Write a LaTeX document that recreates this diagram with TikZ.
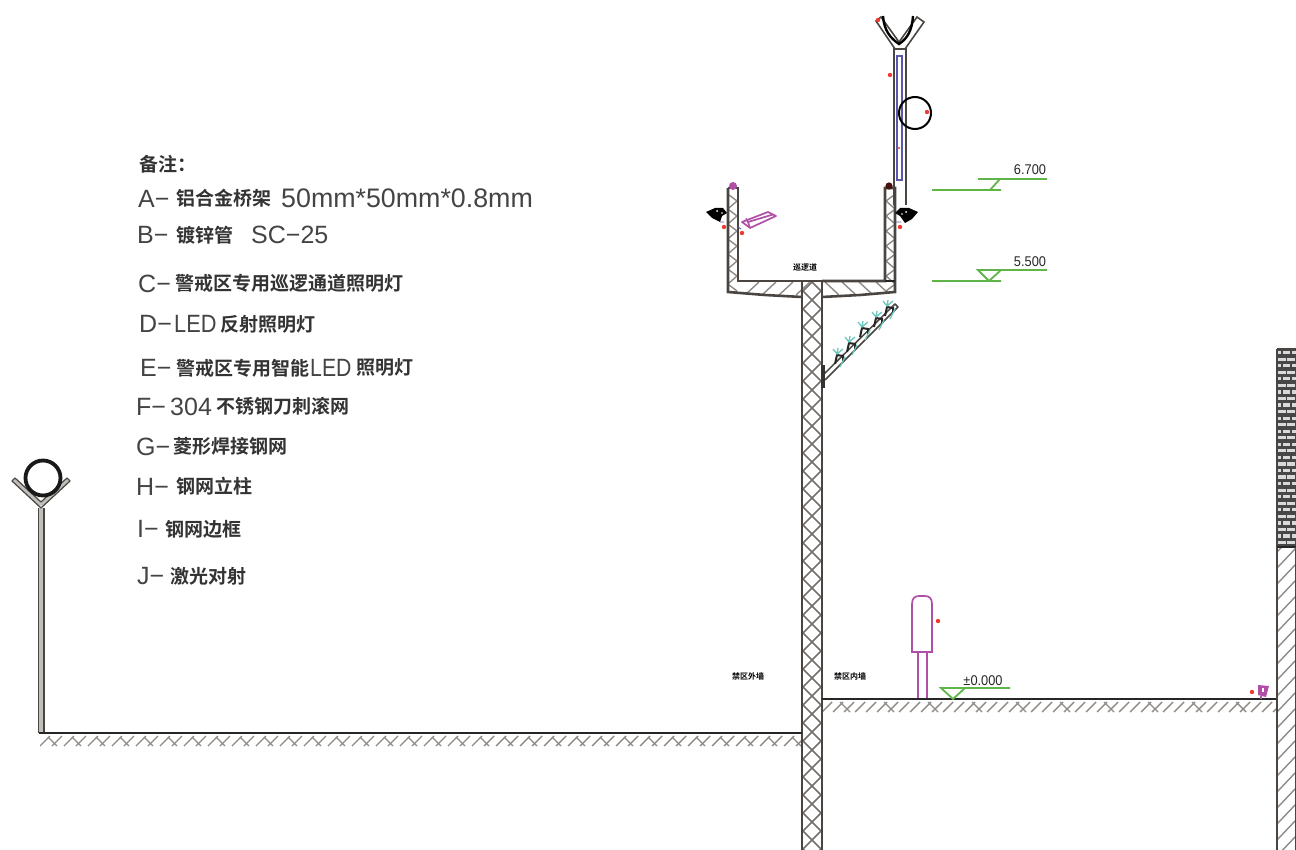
\documentclass[tikz,border=0pt]{standalone}
\usepackage{fontspec}
\setmainfont{Liberation Sans}
\newfontfamily\cjk{Noto Sans CJK SC}[BoldFont={Noto Sans CJK SC Bold}]
\definecolor{wallc}{HTML}{4A4540}
\definecolor{hatchc}{HTML}{8F8A85}
\definecolor{grn}{HTML}{5FB548}
\definecolor{pur}{HTML}{B04FA8}
\definecolor{blu}{HTML}{5A58A8}
\definecolor{txt}{HTML}{444444}
\definecolor{rd}{HTML}{EE3A30}
\definecolor{teeth}{HTML}{6CC8BE}
\tikzset{
  x=1pt,y=-1pt,
  wall/.style={draw=wallc,line width=2.6pt},
  hatch/.style={draw=hatchc,line width=1.4pt},
  greenline/.style={draw=grn,line width=1.8pt},
  ground/.style={draw=black!85,line width=2.8pt},
  purpleline/.style={draw=pur,line width=1.7pt},
  reddot/.style={fill=rd,draw=none},
  note/.style={inner sep=0pt,anchor=base west,text=txt,font=\fontsize{25}{25}\selectfont},
  notewide/.style={inner sep=0pt,anchor=base west,text=txt,font=\fontsize{26.8}{27}\selectfont},
  notecn/.style={inner sep=0pt,anchor=base west,yshift=-1pt,text=black!80,font=\fontsize{19}{19}\selectfont\cjk\bfseries},
  level/.style={inner sep=0pt,anchor=base,text=black!85,font=\fontsize{12.8}{13}\selectfont},
  tiny/.style={inner sep=0pt,text=black,font=\fontsize{8}{8}\selectfont\cjk\bfseries}
}
\begin{document}
\begin{tikzpicture}
\useasboundingbox (0,0) rectangle (1296,850);
% ---- notes
\node[notecn] (n0) at (139,171) {备注：};
\node[note] (a1) at (138,208) {A−};
\node[notecn] (a2) at (176,205) {铝合金桥架};
\node[notewide] (a3) at (281,208) {50mm*50mm*0.8mm};
\node[note] (b1) at (137,244) {B−};
\node[notecn] (b2) at (176,242) {镀锌管};
\node[note] (b3) at (251,244) {SC−25};
\node[note] (c1) at (138,293) {C−};
\node[notecn] (c2) at (175,290) {警戒区专用巡逻通道照明灯};
\node[note] (d1) at (139,333) {D−};
\node[note] (d3) at (174,333) {\scalebox{0.87}[1]{LED}};
\node[notecn] (d2) at (220,330) {反射照明灯};
\node[note] (e1) at (140,376) {E−};
\node[notecn] (e2) at (176,374) {警戒区专用智能};
\node[note] (e3) at (310,376) {\scalebox{0.85}[1]{LED}};
\node[notecn] (e4) at (356,373) {照明灯};
\node[note] (f1) at (136,415) {F−};
\node[note] (f3) at (170,415) {304};
\node[notecn] (f2) at (216,412) {不锈钢刀刺滚网};
\node[note] (g1) at (136,455) {G−};
\node[notecn] (g2) at (173,452) {菱形焊接钢网};
\node[note] (h1) at (136,495) {H−};
\node[notecn] (h2) at (176,492) {钢网立柱};
\node[note] (i1) at (137,537) {I−};
\node[notecn] (i2) at (165,535) {钢网边框};
\node[note] (j1) at (137,584) {J−};
\node[notecn] (j2) at (170,582) {激光对射};
% ---- soil hatching
\begin{scope}
\clip (40,735) rectangle (802,747);
\foreach \x in {40,52,...,800}{\draw[hatch] (\x,746) -- (\x+10,736);}
\foreach \x in {48,72,...,800}{\draw[hatch] (\x,737) -- (\x+9,746);}
\end{scope}
\begin{scope}
\clip (822,701) rectangle (1277,712);
\foreach \x in {822,833,...,1277}{\draw[hatch] (\x,712) -- (\x+10,702);}
\foreach \x in {840,884,...,1277}{\draw[hatch] (\x,702) -- (\x+10,712);}
\end{scope}
% ---- main column
\begin{scope}
\clip (802,282) rectangle (822,850);
\foreach \y in {270,288,...,860}{
  \draw[draw=hatchc!80!black,line width=1.6pt] (800,\y) -- (824,\y+24);
  \draw[draw=hatchc!80!black,line width=1.6pt] (800,\y+24) -- (824,\y);
}
\end{scope}
% ---- trough
\begin{scope}
\clip (728,188) -- (738,188) -- (738,281) -- (885,281) -- (885,188) -- (895,188) -- (895,292) -- (860,295) -- (822,297) -- (802,297) -- (765,295) -- (728,292) -- cycle;
\foreach \x in {745,762,...,800}{\draw[hatch] (\x,295) -- (\x+14,282);}
\foreach \x in {825,842,...,885}{\draw[hatch] (\x,282) -- (\x+14,295);}
\foreach \y in {195,210,...,285}{\draw[hatch] (729,\y) -- (737,\y+6);\draw[hatch] (729,\y+13) -- (737,\y+6);}
\foreach \y in {195,210,...,285}{\draw[hatch] (886,\y+6) -- (894,\y);\draw[hatch] (886,\y+6) -- (894,\y+13);}
\end{scope}
\draw[wall] (728,188) -- (738,188) -- (738,281) -- (802,281);
\draw[wall] (822,281) -- (885,281) -- (885,188) -- (895,188) -- (895,292) -- (860,295) -- (822,297);
\draw[wall] (802,297) -- (765,295) -- (728,292) -- (728,188);
\draw[draw=black!85,line width=1.8pt] (885,281) -- (895,281);
\draw[wall] (802,281) -- (822,281);
\draw[wall] (802,282) -- (802,850);
\draw[wall] (822,282) -- (822,850);
% ---- fence top
\draw[wall,line width=1.8pt] (894,48) -- (894,205);
\draw[wall,line width=1.8pt] (906,48) -- (906,205);
\draw[wall,line width=1.4pt] (894,49) -- (906,49);
\draw[blu,line width=1.6pt] (897,56) rectangle (902,180);
\draw[wall,line width=1.6pt] (895,49) -- (876,21) -- (881,17) -- (899,42) -- (917,17) -- (924,22) -- (905,49);
\draw[black,line width=2.4pt] (883,16) .. controls (884,30) and (890,38) .. (899,44) .. controls (908,38) and (912,30) .. (913,16);
\draw[black,line width=2pt] (915,113) circle[radius=16];
% ---- lamps (black)
\fill[black] (706,212) -- (715,208) -- (723,208) -- (727,213) -- (722,216) -- (720,222) -- (712,218) -- cycle;
\fill[black] (918,212) -- (909,208) -- (900,208) -- (895,213) -- (900,216) -- (905,223) -- (912,219) -- cycle;
\fill[white] (717,211) circle[radius=1] (722,213) circle[radius=.8] (906,212) circle[radius=1] (902,214) circle[radius=.8];
\draw[blu,line width=.9pt] (720,222) -- (724,222) (896,222) -- (901,222) (738,227) -- (741,229);
% ---- camera
\draw[purpleline,line join=round] (742,222) -- (768,212) -- (776,216) -- (750,228) -- cycle;
\draw[purpleline,line join=round] (746,218.5) -- (748,222) -- (750,228) (748,222) -- (773,214.5);
% ---- dots
\fill[pur] (733,186) circle[radius=4];
\fill[black!70!rd] (889,186) circle[radius=3.6];
\foreach \p in {(724,227),(742,233),(900,227),(890,75),(927,112),(878,20),(1252,692),(938,621)}{\fill[reddot] \p circle[radius=2.2];}
\fill[reddot] (899,148) circle[radius=1.1];
% ---- barbed net
\draw[draw=wallc,line width=1.5pt,line join=round] (823,375) -- (895,304) -- (898,307) -- (825,380);
\draw[black!80,line width=3.4pt] (823,365) -- (823,388);
\foreach \x/\y in {838/355, 850/343, 863/328, 877/318, 888/307}{
  \draw[black!85,line width=2pt] (\x-3,\y+9) -- (\x-1,\y) -- (\x+5,\y+1) -- (\x+5,\y+6);
  \draw[draw=teeth,line width=1.3pt] (\x-5,\y-6) -- (\x-1,\y-1) -- (\x+5,\y-6) (\x,\y-7) -- (\x-1,\y-1) (\x+7,\y+2) -- (\x+2,\y+12);
}
% ---- left post
\fill[hatchc!55] (39,508) rectangle (44,733);
\draw[wall,line width=1.4pt] (38.5,508) -- (38.5,733) (44,508) -- (44,733);
\draw[draw=hatchc!55,line width=4.5pt] (41,505) -- (14,480) (41,505) -- (68,480);
\draw[draw=wallc,line width=1.2pt,line join=round] (41,508) -- (12,481) -- (15,478) -- (41,502) -- (67,478) -- (70,481) -- cycle;
\draw[black!90,line width=3.8pt] (43,478) circle[radius=17.5];
% ---- ground
\draw[ground] (39,733) -- (802,733);
\draw[ground] (822,699) -- (1277,699);
% ---- purple post
\draw[purpleline] (912,652) -- (912,604) .. controls (912,598) and (915,596) .. (919,596) -- (925,596) .. controls (929,596) and (932,598) .. (932,604) -- (932,652) -- cycle;
\draw[purpleline] (918,652) -- (918,698) (927,652) -- (927,698);
% ---- levels
\draw[greenline] (978,179) -- (1047,179) (932,190) -- (1001,190) (1000,179) -- (990,190);
\node[level] (l1) at (1030,175) {\scalebox{1}[1.1]{6.700}};
\draw[greenline] (932,281) -- (1001,281) (1047,270) -- (978,270) -- (989,281) -- (1001,270);
\node[level] (l2) at (1030,267) {\scalebox{1}[1.1]{5.500}};
\draw[greenline] (1010,688) -- (941,688) -- (953,699) -- (965,688);
\node[level] (l3) at (983,685) {\scalebox{1}[1.1]{±0.000}};
% ---- small labels
\node[tiny] (t1) at (805,267) {巡逻道};
\node[tiny] (t2) at (748,676) {禁区外墙};
\node[tiny] (t3) at (850,676) {禁区内墙};
% ---- right wall
\begin{scope}
\clip (1277,547) rectangle (1296,850);
\foreach \y in {540,556,...,860}{\draw[hatch] (1277,\y+12) -- (1296,\y-8);}
\end{scope}
\begin{scope}
\clip (1277,349) rectangle (1296,547);
\fill[black!72] (1277,349) rectangle (1296,547);
\foreach \r in {0,...,29}{
  \pgfmathsetmacro{\yy}{351+\r*6.55}
  \pgfmathsetmacro{\off}{mod(\r,2)*4.5}
  \foreach \c in {0,1,2}{
    \fill[white!85!black] (1278+\off+\c*9-4.5,\yy) rectangle ++(7.5,3.2);
  }
}
\end{scope}
\draw[wall,line width=2pt] (1277,349) -- (1296,349);
\draw[wall] (1277,349) -- (1277,850);
\draw[black!85,line width=2pt] (1277,547) -- (1296,547);
\draw[draw=wallc,line width=1.8pt] (1295.5,547) -- (1295.5,850);
% ---- wall lamp
\fill[pur] (1258,685) -- (1269,686) -- (1266,697) -- (1258,695) -- cycle;
\fill[white] (1262,688) rectangle (1264,692);
\draw[pur,line width=1.2pt] (1261,696) -- (1261,699);
\end{tikzpicture}
\end{document}
